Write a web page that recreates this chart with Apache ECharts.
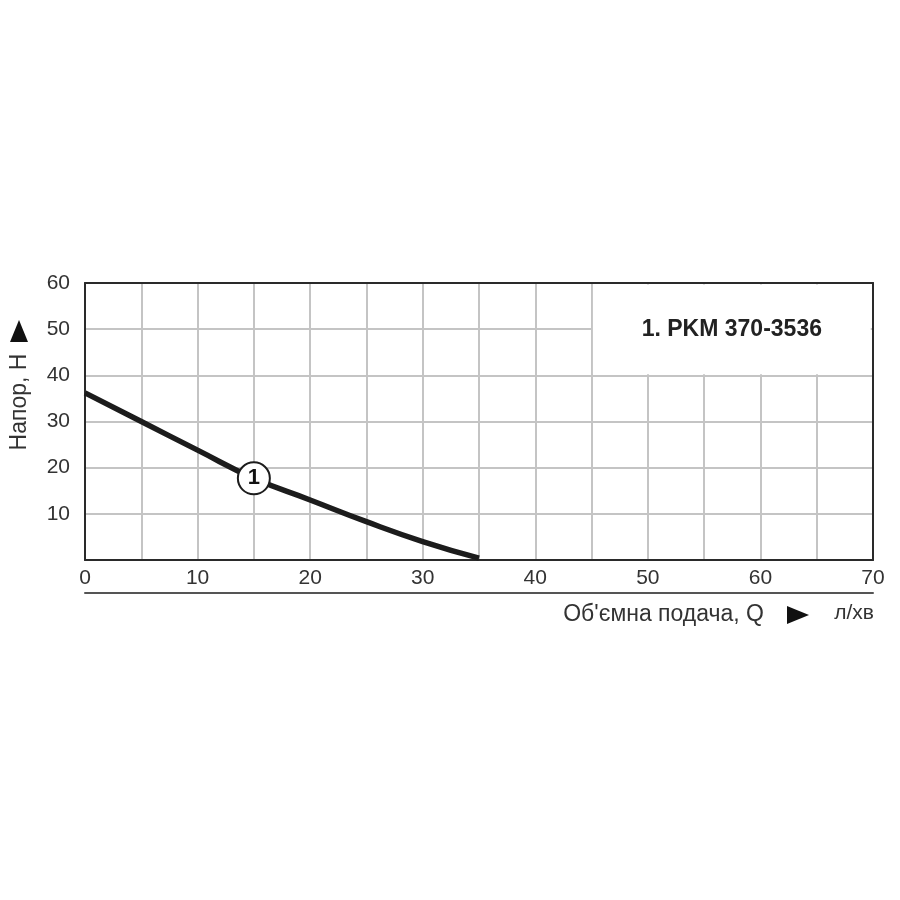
<!DOCTYPE html>
<html>
<head>
<meta charset="utf-8">
<script src="https://cdn.jsdelivr.net/npm/echarts@6/dist/echarts.min.js"></script>
<style>
html,body{margin:0;padding:0;background:#fff;}
#c{width:900px;height:900px;}
</style>
</head>
<body>
<div id="c"></div>
<script>
// Data
const flowQ = [0, 5, 10, 15, 20, 25, 30, 35];          // л/хв
const headH = [36.2, 30.0, 23.8, 17.7, 13.0, 8.3, 4.0, 0.4]; // Напор
const curveLabelQ = 15;
const curveLabelH = 17.7;
const curveName = '1';
const legendText = '1. PKM 370-3536';
const xTitle = "Об'ємна подача, Q";
const xUnit = 'л/хв';
const yTitle = 'Напор, Н';

const font = '"Liberation Sans", Arial, sans-serif';
const chart = echarts.init(document.getElementById('c'), null, {renderer: 'canvas'});

const curveData = flowQ.map((q, i) => [q, headH[i]]);
const borderAxis = {show: true, onZero: false, lineStyle: {color: '#2a2a2a', width: 2}};

chart.setOption({
  animation: false,
  backgroundColor: '#fff',
  grid: {left: 85, top: 283, right: 27, bottom: 340, show: false},
  xAxis: [{
    type: 'value', min: 0, max: 70, interval: 5, position: 'bottom',
    axisLine: borderAxis, axisTick: {show: false},
    axisLabel: {
      color: '#333', fontSize: 21, fontFamily: font, margin: 8,
      formatter: v => (v % 10 === 0 ? String(v) : '')
    },
    splitLine: {show: true, lineStyle: {color: '#c4c4c4', width: 2}},
    z: 1
  }, {
    type: 'value', min: 0, max: 70, position: 'bottom', offset: 33,
    axisLine: {show: true, onZero: false, lineStyle: {color: '#555', width: 2}},
    axisTick: {show: false}, axisLabel: {show: false}, splitLine: {show: false}
  }, {
    type: 'value', min: 0, max: 70, position: 'top',
    axisLine: borderAxis, axisTick: {show: false}, axisLabel: {show: false}, splitLine: {show: false}, z: 4
  }],
  yAxis: [{
    type: 'value', min: 0, max: 60, interval: 10, position: 'left',
    axisLine: borderAxis, axisTick: {show: false},
    axisLabel: {
      color: '#333', fontSize: 21, fontFamily: font, margin: 15,
      formatter: v => (v === 0 ? '' : String(v))
    },
    splitLine: {show: true, lineStyle: {color: '#c4c4c4', width: 2}},
    z: 1
  }, {
    type: 'value', min: 0, max: 60, position: 'right',
    axisLine: borderAxis, axisTick: {show: false}, axisLabel: {show: false}, splitLine: {show: false}, z: 4
  }],
  series: [{
    type: 'line',
    data: curveData,
    smooth: true,
    showSymbol: false,
    lineStyle: {color: '#1c1c1c', width: 5.5},
    z: 3,
    markArea: {
      silent: true,
      itemStyle: {color: '#ffffff', borderWidth: 0},
      label: {
        show: true, position: 'inside', color: '#222', fontSize: 23,
        fontWeight: 'bold', fontFamily: font
      },
      data: [[{name: legendText, coord: [45.12, 40.22]}, {coord: [69.8, 59.7]}]]
    }
  }, {
    type: 'scatter',
    data: [[curveLabelQ, curveLabelH]],
    symbol: 'circle',
    symbolSize: 32,
    itemStyle: {color: '#fff', borderColor: '#1c1c1c', borderWidth: 2, opacity: 1},
    label: {show: true, position: 'inside', formatter: curveName, color: '#111', fontSize: 22, fontWeight: 'bold', fontFamily: font},
    z: 5
  }],
  graphic: [
    {type: 'text', x: 764, y: 615,
     style: {text: xTitle, fill: '#333', font: '23px ' + font, textAlign: 'right', textVerticalAlign: 'middle'}},
    {type: 'polygon', shape: {points: [[787, 606], [787, 624], [809, 615]]}, style: {fill: '#111'}},
    {type: 'text', x: 874, y: 613,
     style: {text: xUnit, fill: '#333', font: '21px ' + font, textAlign: 'right', textVerticalAlign: 'middle'}},
    {type: 'text', x: 20, y: 402, rotation: Math.PI / 2,
     style: {text: yTitle, fill: '#333', font: '23px ' + font, textAlign: 'center', textVerticalAlign: 'middle'}},
    {type: 'polygon', shape: {points: [[10, 342], [28, 342], [19, 320]]}, style: {fill: '#111'}}
  ]
});
</script>
</body>
</html>
